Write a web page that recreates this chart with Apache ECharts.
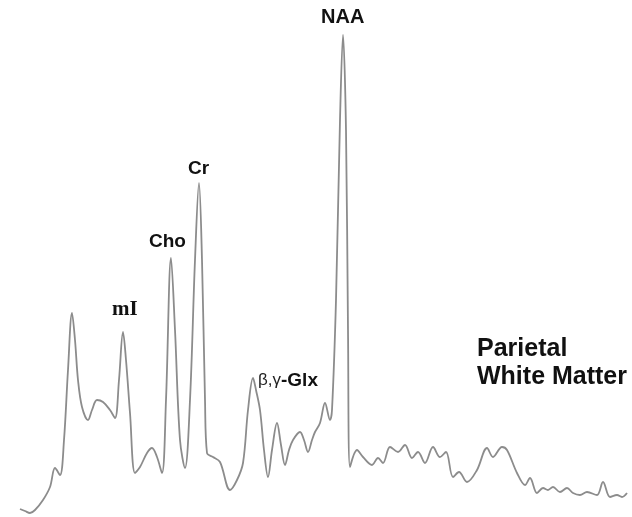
<!DOCTYPE html>
<html><head><meta charset="utf-8">
<script src="https://cdn.jsdelivr.net/npm/echarts@6/dist/echarts.min.js"></script>
<style>html,body{margin:0;padding:0;background:#fff}#c{width:632px;height:517px}</style>
</head><body><div id="c"></div>
<script>
// chemical-shift position (pixel-scale units) and signal intensity
const shiftPos = [20,25,30,35,43,50,55,60,64,68,72,75,78,82,88,92,97,103,110,115,119,123,126,130,135,140,147,152,157,162,166,171,175,180,185,190,195,199,202,205,207,213,220,230,237,243,248,253,256,260,264,268,272,277,281,285,289,293,300,304,308,312,315,320,325,330,332,336,340,343,346,348,350,357,363,372,378,383,390,398,405,412,418,425,433,440,446,453,459,467,477,487,493,502,507,517,525,530,537,543,548,553,560,567,573,580,587,597,603,610,617,622,627];
const intensity = [8,6,4,7,17,30,49,42,77,147,204,177,137,110,97,107,117,115,107,99,137,185,157,104,44,50,64,69,60,44,117,259,187,77,49,117,257,334,257,117,64,60,55,27,37,54,107,139,127,107,67,40,67,94,72,52,67,77,85,77,65,77,85,94,114,97,107,217,397,482,387,187,50,67,60,52,59,54,70,65,72,59,65,54,70,60,65,40,45,35,47,69,60,70,67,44,32,39,24,29,27,30,25,29,24,22,25,22,35,20,22,20,24];
const peakLabels = ['NAA','Cr','Cho','mI'];

const data = shiftPos.map((x,i)=>[x,intensity[i]]);
const chart = echarts.init(document.getElementById('c'));
const sans = 'Liberation Sans, Arial, sans-serif';
const bold = {fontFamily:sans, fontWeight:'bold', fill:'#111'};
chart.setOption({
  backgroundColor:'#fff',
  animation:false,
  grid:{left:0,right:0,top:0,bottom:0},
  xAxis:{type:'value',min:0,max:632,show:false},
  yAxis:{type:'value',min:0,max:517,show:false},
  series:[{
    type:'line',data:data,smooth:0.35,symbol:'none',
    lineStyle:{color:'#8c8c8c',width:1.8}
  }],
  graphic:[
    {type:'text',left:321,top:7,style:Object.assign({text:peakLabels[0],fontSize:20},bold)},
    {type:'text',left:188,top:159,style:Object.assign({text:peakLabels[1],fontSize:19},bold)},
    {type:'text',left:149,top:232,style:Object.assign({text:peakLabels[2],fontSize:19},bold)},
    {type:'text',left:112,top:299,style:{text:peakLabels[3],fontSize:21,fontFamily:'Liberation Serif, serif',fontWeight:'bold',fill:'#111'}},
    {type:'text',left:258,top:371,style:{text:'{a|β,γ}{b|-Glx}',rich:{a:{fontSize:17,fontFamily:sans,fill:'#222'},b:{fontSize:19,fontFamily:sans,fontWeight:'bold',fill:'#111'}}}},
    {type:'text',left:477,top:337,style:Object.assign({text:'Parietal',fontSize:25},bold)},
    {type:'text',left:477,top:365,style:Object.assign({text:'White Matter',fontSize:25},bold)}
  ]
});
</script></body></html>
